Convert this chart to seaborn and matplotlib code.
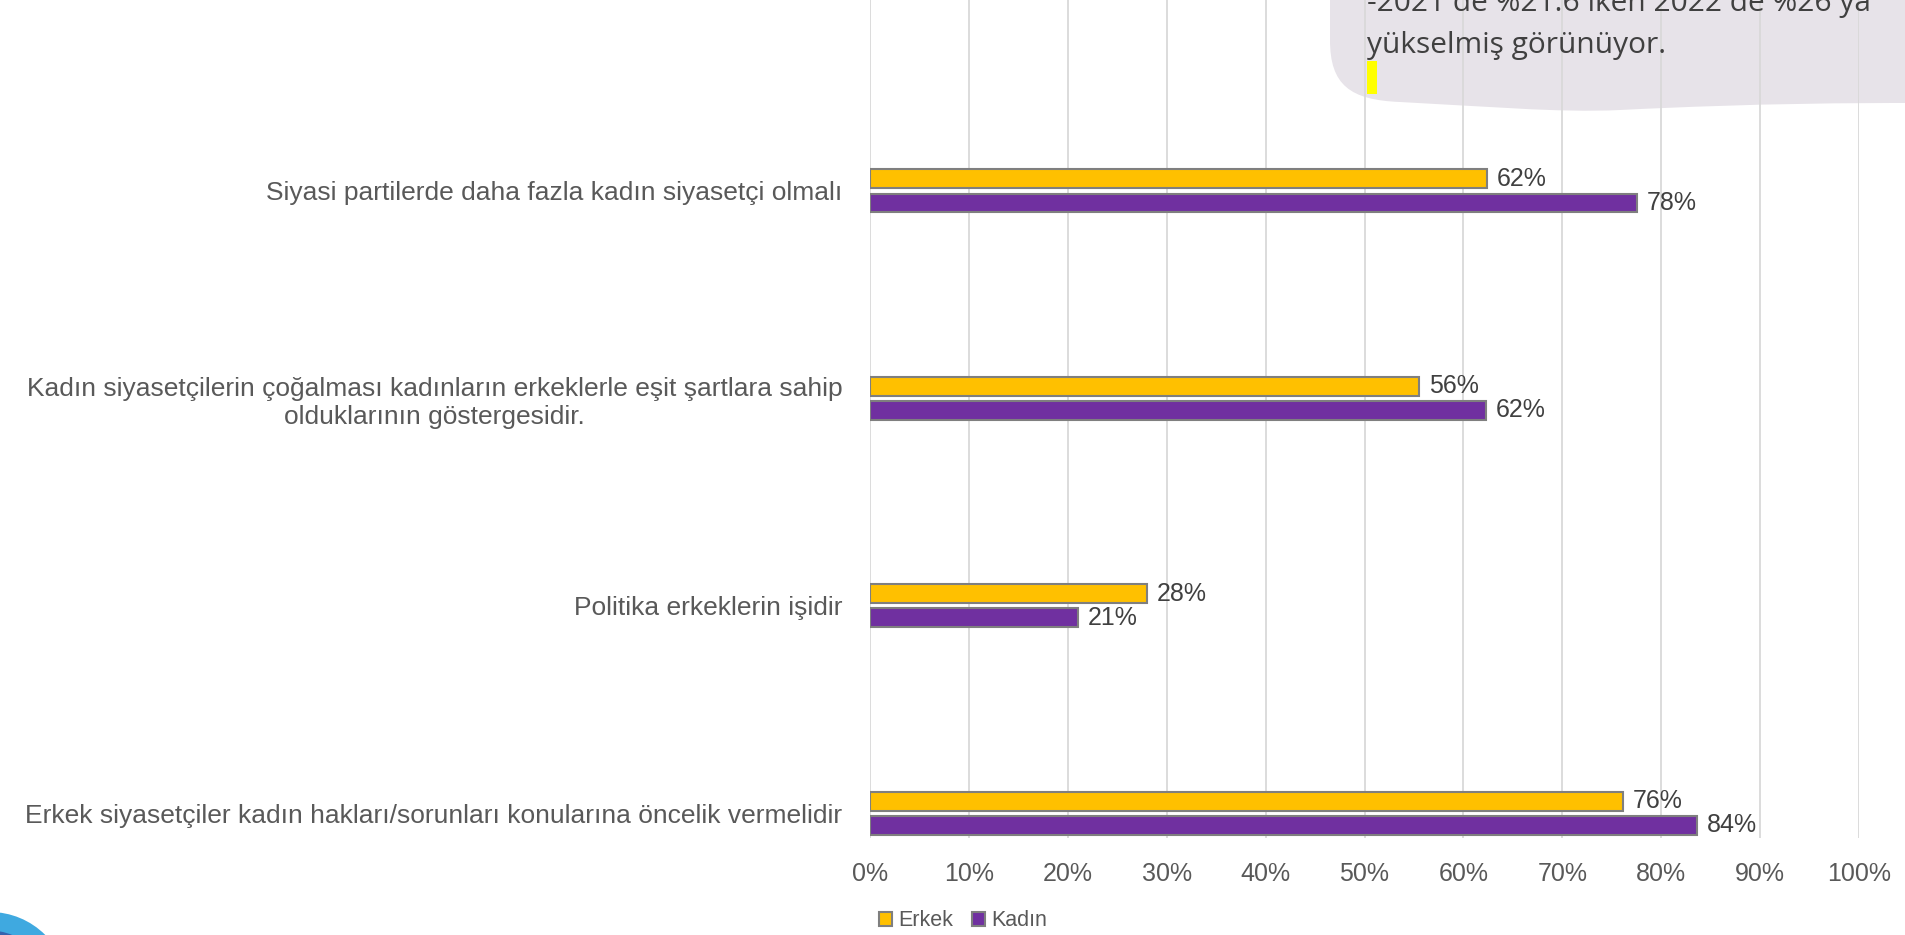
import matplotlib
matplotlib.use("Agg")
import matplotlib.pyplot as plt
import seaborn as sns
import pandas as pd
import numpy as np
from matplotlib.patches import Patch, PathPatch, Rectangle, Ellipse
from matplotlib.path import Path
from matplotlib.ticker import PercentFormatter, MultipleLocator

# ---- data ----
categories = [
    "Siyasi partilerde daha fazla kadın siyasetçi olmalı",
    "Kadın siyasetçilerin çoğalması kadınların erkeklerle eşit şartlara sahip\nolduklarının göstergesidir.",
    "Politika erkeklerin işidir",
    "Erkek siyasetçiler kadın hakları/sorunları konularına öncelik vermelidir",
]
series_names = ["Erkek", "Kadın"]
erkek = [0.624, 0.555, 0.280, 0.761]
kadin = [0.776, 0.623, 0.210, 0.836]
colors = ["#FFC000", "#7030A0"]
callout_lines = ["-2021 de %21.6 iken 2022 de %26 ya", "yükselmiş görünüyor."]

df = pd.DataFrame({
    "category": categories * 2,
    "group": [series_names[0]] * 4 + [series_names[1]] * 4,
    "value": erkek + kadin,
})

W, H = 1905, 935
fig = plt.figure(figsize=(W / 100, H / 100), dpi=100)
plt.rcParams['font.family'] = ['Liberation Sans', 'DejaVu Sans']

def fx(px):
    return px / W

def fy(py):
    return 1 - py / H

# callout background (behind axes)
verts = [
    (1330, -20), (1330, 40),
    (1330, 85), (1350, 100), (1400, 102),
    (1480, 106), (1560, 113), (1620, 110),
    (1760, 103), (1860, 103), (1910, 103),
    (1910, -20), (1330, -20),
]
codes = [Path.MOVETO, Path.LINETO,
         Path.CURVE4, Path.CURVE4, Path.CURVE4,
         Path.CURVE4, Path.CURVE4, Path.CURVE4,
         Path.CURVE4, Path.CURVE4, Path.CURVE4,
         Path.LINETO, Path.CLOSEPOLY]
verts_f = [(fx(x), fy(y)) for x, y in verts]
callout = PathPatch(Path(verts_f, codes), transform=fig.transFigure,
                    facecolor="#E7E3E9", edgecolor="none", zorder=-2)
fig.patches.append(callout)

ax = fig.add_axes([fx(870), fy(838), fx(1859) - fx(870), fy(0) - fy(838)])
ax.set_facecolor("none")

sns.barplot(data=df, y="category", x="value", hue="group", orient="h",
            palette=colors, saturation=1, width=0.2316, gap=0.21, errorbar=None,
            edgecolor="#7F7F7F", linewidth=1.5, ax=ax, legend=False,
            zorder=3)

ax.set_xlim(0, 1)
ax.set_ylim(3.12, -0.921)
ax.xaxis.set_major_locator(MultipleLocator(0.1))
ax.xaxis.set_major_formatter(PercentFormatter(1.0, decimals=0))
ax.grid(axis="x", color="#D9D9D9", linewidth=1.3, zorder=0)
ax.grid(axis="y", visible=False)
ax.set_axisbelow(True)
for s in ax.spines.values():
    s.set_visible(False)
ax.set_xlabel("")
ax.set_ylabel("")
ax.tick_params(axis="both", length=0, colors="#595959")
ax.tick_params(axis="x", labelsize=18, pad=17)
ax.tick_params(axis="y", labelsize=19, pad=20)
for t in ax.get_yticklabels():
    t.set_multialignment("center")
    t.set_color("#595959")

for cont in ax.containers:
    vals = [b.get_width() for b in cont]
    ax.bar_label(cont, labels=[f"{v*100:.0f}%" for v in vals], padding=7,
                 fontsize=18, color="#404040")

# legend
handles = [Patch(facecolor=c, edgecolor="#7F7F7F", linewidth=1.5) for c in colors]
fig.legend(handles, series_names, loc="center", bbox_to_anchor=(fx(963), fy(921)),
           ncol=2, frameon=False, fontsize=15.5, handlelength=0.62, handleheight=0.62,
           handletextpad=0.28, columnspacing=0.85, labelcolor="#595959",
           borderpad=0.2)

# callout text
fig.text(fx(1367), fy(11), callout_lines[0], fontsize=21.5, color="#404040",
         family=["Open Sans", "DejaVu Sans"], va="baseline", ha="left", zorder=5)
fig.text(fx(1367), fy(53), callout_lines[1], fontsize=21.5, color="#404040",
         family=["Open Sans", "DejaVu Sans"], va="baseline", ha="left", zorder=5)
fig.patches.append(Rectangle((fx(1367), fy(94)), fx(10), fy(0) - fy(33),
                             transform=fig.transFigure, facecolor="#FFFF00",
                             edgecolor="none", zorder=5))

# logo fragment bottom-left
fig.patches.append(Ellipse((fx(-10), fy(990)), 2 * 78 / W, 2 * 78 / H,
                           transform=fig.transFigure,
                           facecolor="#3FA9E0", edgecolor="none", zorder=1))
fig.patches.append(Ellipse((fx(-14), fy(1002)), 2 * 72 / W, 2 * 72 / H,
                           transform=fig.transFigure,
                           facecolor="#3563AE", edgecolor="none", zorder=1))

fig.savefig("out.png", dpi=100)
